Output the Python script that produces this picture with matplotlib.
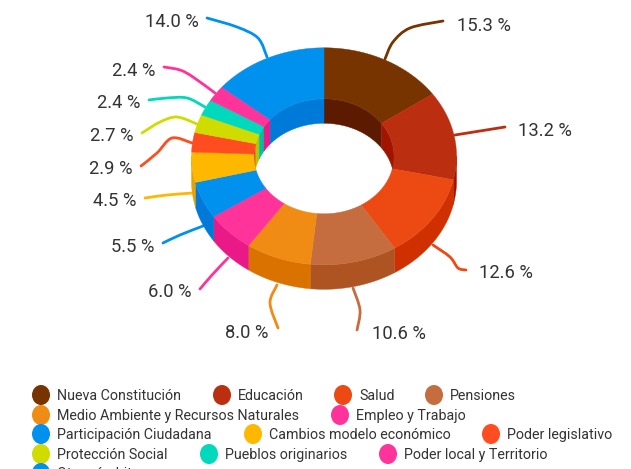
import numpy as np
import matplotlib
matplotlib.use("Agg")
import matplotlib.pyplot as plt
from matplotlib.path import Path
from matplotlib.patches import PathPatch, Polygon, Ellipse
from matplotlib import font_manager as fm

names = sorted({f.name for f in fm.fontManager.ttflist})
print([n for n in names if 'Narrow' in n or 'Condensed' in n or 'Roboto' in n])
FONT = 'Liberation Sans Narrow' if 'Liberation Sans Narrow' in names else 'Roboto'
FONT = 'Roboto'

categories = ["Nueva Constitución", "Educación", "Salud", "Pensiones",
              "Medio Ambiente y Recursos Naturales", "Empleo y Trabajo",
              "Participación Ciudadana", "Cambios modelo económico",
              "Poder legislativo", "Protección Social", "Pueblos originarios",
              "Poder local y Territorio", "Otros ámbitos"]
values = [15.3, 13.2, 12.6, 10.6, 8.0, 6.0, 5.5, 4.5, 2.9, 2.7, 2.4, 2.4, 14.0]

top_colors = ["#773300", "#BC2E10", "#EC4A12", "#C66D40", "#F08C14", "#FF3399",
              "#0090EE", "#FFB800", "#FF4D1F", "#D0DC00", "#00D9BB", "#FF3399", "#0090EE"]
wall_colors = ["#5C1A00", "#A01400", "#D03000", "#AE5423", "#DA7200", "#E91A88",
               "#007AD8", "#E6A200", "#E63200", "#B8C400", "#00BFA5", "#E91A88", "#007AD8"]

# layout (pixels)
CX, CY, RX, RY, IRX, IRY, DEPTH = 324, 156.3, 132.5, 108.5, 70, 57.5, 24.5

label_pos = [(484, 26), (545, 131), (506, 273), (399, 334), (247, 333), (170, 292),
             (133, 247), (115, 201), (111, 169), (112, 136), (119, 103), (134, 71), (172, 22)]
leaders = [
    [(385, 59), (393, 42), (410, 28), (443, 21)],
    [(455, 135), (480, 131), (505, 127)],
    [(433, 245), (450, 257), (458, 268), (466, 270)],
    [(353, 288), (360, 310), (357, 330)],
    [(277, 285), (270, 303), (278, 328)],
    [(228, 258), (212, 275), (200, 289)],
    [(203, 226), (180, 235), (163, 243)],
    [(193, 193), (167, 195), (145, 198)],
    [(192, 143), (172, 138), (157, 153), (141, 166)],
    [(197, 124), (177, 117), (160, 122), (142, 133)],
    [(205, 107), (187, 98), (167, 98), (149, 100)],
    [(215, 93), (193, 77), (180, 70), (164, 67)],
    [(267, 57), (258, 38), (237, 27), (207, 18)],
]
legend_layout = [(41, 395), (222, 395), (343, 395), (434, 395),
                 (41, 415), (340, 415),
                 (41, 434), (253, 434), (491, 434),
                 (41, 454), (209, 454), (388, 454),
                 (41, 473)]

fig = plt.figure(figsize=(6.31, 4.69), dpi=100)
ax = fig.add_axes([0, 0, 1, 1])
ax.set_xlim(0, 631)
ax.set_ylim(469, 0)
ax.axis('off')


def arc(rx, ry, a0, a1, dy=0, n=80):
    t = np.linspace(a0, a1, n)
    return np.column_stack([CX + rx * np.sin(t), CY - ry * np.cos(t) + dy])


def smooth(pts):
    p = np.array(pts, float)
    p = np.vstack([p[0], p, p[-1]])
    verts, codes = [p[1]], [Path.MOVETO]
    for i in range(1, len(p) - 2):
        verts += [p[i] + (p[i + 1] - p[i - 1]) / 6, p[i + 1] - (p[i + 2] - p[i]) / 6, p[i + 1]]
        codes += [Path.CURVE4] * 3
    return Path(verts, codes)


edges = np.cumsum([0] + values) / sum(values) * 2 * np.pi
pairs = list(zip(edges[:-1], edges[1:]))

# inner walls: far side of the hole, seen from above
for (a0, a1), c in zip(pairs, wall_colors):
    for lo, hi in ((a0, min(a1, np.pi / 2)), (max(a0, 1.5 * np.pi), a1)):
        if hi > lo:
            ax.add_patch(Polygon(np.vstack([arc(IRX, IRY, lo, hi), arc(IRX, IRY, hi, lo, DEPTH)]),
                                 fc=c, ec=c, lw=0.3, zorder=1))
# outer walls: near side of the ring
for (a0, a1), c in zip(pairs, wall_colors):
    lo, hi = max(a0, np.pi / 2), min(a1, 1.5 * np.pi)
    if hi > lo:
        ax.add_patch(Polygon(np.vstack([arc(RX, RY, lo, hi), arc(RX, RY, hi, lo, DEPTH)]),
                             fc=c, ec=c, lw=0.3, zorder=1))
# top faces
for (a0, a1), c in zip(pairs, top_colors):
    ax.add_patch(Polygon(np.vstack([arc(RX, RY, a0, a1), arc(IRX, IRY, a1, a0)]),
                         fc=c, ec=c, lw=0.3, zorder=2))

# leader lines and value labels
for v, c, pts, pos in zip(values, top_colors, leaders, label_pos):
    ax.add_patch(PathPatch(smooth(pts), fc='none', ec=c, lw=2.0, capstyle='round', zorder=0))
    ax.text(pos[0], pos[1], f"{v:.1f} %", family=FONT, fontsize=13.2, color='#333333',
            ha='center', va='center', zorder=3)

# legend
for name, c, (x, y) in zip(categories, top_colors, legend_layout):
    ax.add_patch(Ellipse((x, y), 18, 20, fc=c, ec='none', zorder=3, clip_on=True))
    ax.text(x + 16, y + 1, name, family=FONT, fontsize=10.3, color='#333333',
            ha='left', va='center', zorder=3)

fig.savefig('out.png', dpi=100)
